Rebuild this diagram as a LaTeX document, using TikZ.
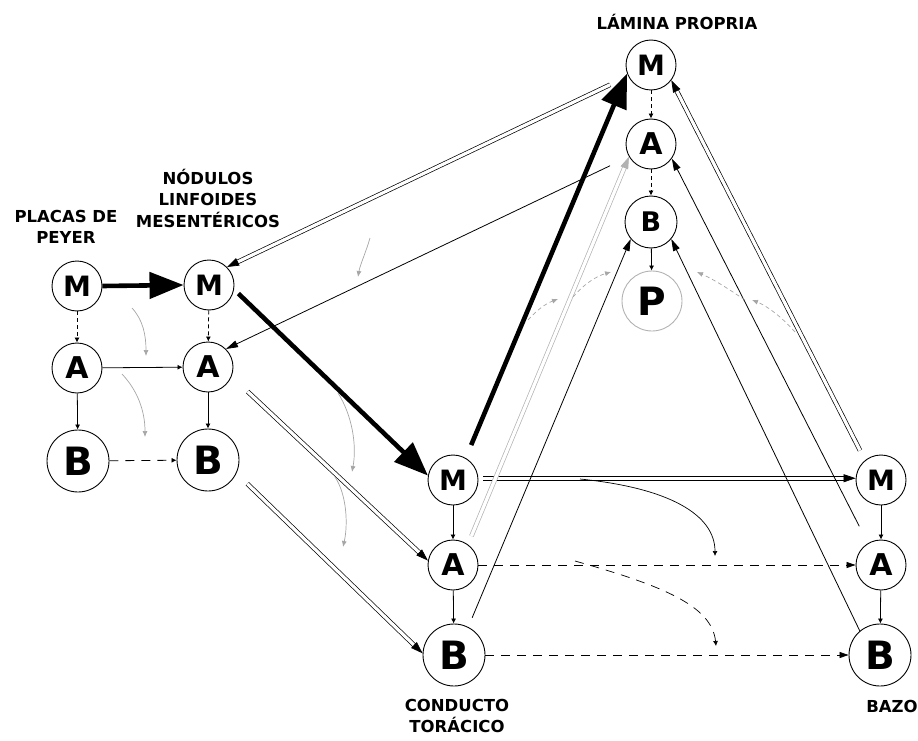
\documentclass[tikz,border=0pt]{standalone}
\usepackage{fontspec}
\setmainfont{DejaVu Sans}
\usetikzlibrary{arrows.meta,calc}
\tikzset{
 cell/.style={circle,draw,line width=0.9pt,inner sep=0pt,minimum size=50pt,font=\bfseries\fontsize{28}{28}\selectfont},
 cellA/.style={cell,font=\bfseries\fontsize{30}{30}\selectfont},
 cellB/.style={cell,minimum size=62pt,font=\bfseries\fontsize{39}{39}\selectfont},
 cellS/.style={cell,minimum size=52pt,font=\bfseries\fontsize{27}{27}\selectfont},
 cellP/.style={cell,draw=gray!60,minimum size=60pt,font=\bfseries\fontsize{39}{39}\selectfont},
 lbl/.style={font=\bfseries\fontsize{16.5}{21.5}\selectfont,align=center},
 big/.style={line width=4.6pt,-{Triangle[length=34pt,width=26pt]}},
 chain/.style={line width=0.8pt,-{Latex[length=5pt,width=5pt]}},
 thinarr/.style={line width=0.8pt,-{Triangle[length=12pt,width=7pt]}},
 dtip/.style={line width=0.8pt,-{Triangle[length=9pt,width=6pt]}},
 dsh/.style={dash pattern=on 9pt off 7pt},
 cdsh/.style={dash pattern=on 4pt off 3pt},
 dbl/.style={double,double distance=3.2pt,line width=0.7pt},
 faint/.style={gray!70,line width=0.7pt,-{Latex[length=6pt,width=5pt]}},
 curv/.style={line width=0.7pt,-{Latex[length=5pt,width=5pt]}},
}
\newcommand\dblarr[4][]{%
  \draw[dbl,#1,shorten >=9pt,shorten <=#4] (#2) -- (#3);
  \draw[#1,line width=0.7pt,-{Triangle[length=12pt,width=8pt]}] ($(#3)!12pt!(#2)$) -- (#3);
}
\begin{document}
\begin{tikzpicture}[x=1pt,y=-1pt]
\useasboundingbox (0,0) rectangle (918,741);
% nodes
\node[cell]  (pM) at (77,286) {M};
\node[cellA] (pA) at (77,368) {A};
\node[cellB] (pB) at (78,461) {B};
\node[cell]  (nM) at (209,285) {M};
\node[cellA] (nA) at (208,367) {A};
\node[cellB] (nB) at (208,460) {B};
\node[cell]  (lM) at (651,65) {M};
\node[cellA] (lA) at (651,144) {A};
\node[cellS] (lB) at (651,222) {B};
\node[cellP] (lP) at (652,301) {P};
\node[cell]  (cM) at (453,480) {M};
\node[cellA] (cA) at (453,565) {A};
\node[cellB] (cB) at (454,655) {B};
\node[cell]  (bM) at (881,480) {M};
\node[cellA] (bA) at (881,565) {A};
\node[cellB] (bB) at (880,655) {B};
% labels
\node[lbl] (tPey) at (66,227) {PLACAS DE\\PEYER};
\node[lbl] (tNod) at (208,198) {NÓDULOS\\LINFOIDES\\MESENTÉRICOS};
\node[lbl] (tLam) at (677,22) {LÁMINA PROPRIA};
\node[lbl] (tCon) at (457,716) {CONDUCTO\\TORÁCICO};
\node[lbl] (tBaz) at (892,706) {BAZO};
% thick arrows
\draw[big] (pM.east) -- (nM.west);
\draw[big,shorten <=6pt] (nM.-10) -- (cM.170);
\draw[big,shorten <=14pt] (cM.60) -- (lM.200);
% chains
\draw[chain,cdsh] (pM) -- (pA);
\draw[chain] (pA) -- (pB);
\draw[chain,cdsh] (nM) -- (nA);
\draw[chain] (nA) -- (nB);
\draw[chain,cdsh] (lM) -- (lA);
\draw[chain,cdsh] (lA) -- (lB);
\draw[chain] (lB) -- (lP);
\draw[chain] (cM) -- (cA);
\draw[chain] (cA) -- (cB);
\draw[chain] (bM) -- (bA);
\draw[chain] (bA) -- (bB);
% horizontals
\draw[chain] (pA) -- (nA);
\draw[chain,dsh] (pB) -- (nB);
\draw[dtip,dsh] (cA) -- (bA);
\draw[dtip,dsh] (cB) -- (bB);
% double routes
\dblarr{lM.206}{nM.45}{20pt}
\dblarr{nA.-22}{cA.170}{22pt}
\dblarr{nB.-25}{cB.177}{15pt}
\dblarr{cM.4}{bM.176}{5pt}
\dblarr[gray!60]{cA.54}{lA.210}{9pt}
\dblarr{bM.129}{lM.-37}{11pt}
% single routes
\draw[thinarr,shorten <=21pt] (lA.210) -- (nA.45);
\draw[thinarr,shorten <=10pt] (cB.63) -- (lB.220);
\draw[thinarr] (bB.130) -- (lB.-40);
\draw[thinarr,shorten <=19pt] (bA.121) -- (lA.-35);
% small curved arrows
\coordinate (k1s) at (132,308); \coordinate (k1e) at (146,356);
\coordinate (k2s) at (122,374); \coordinate (k2e) at (145,437);
\coordinate (k3s) at (370,238); \coordinate (k3e) at (358,277);
\coordinate (k4s) at (338,393); \coordinate (k4e) at (352,472);
\coordinate (k5s) at (335,477); \coordinate (k5e) at (343,547);
\coordinate (k6s) at (580,479); \coordinate (k6e) at (715,556);
\coordinate (k7s) at (575,561); \coordinate (k7e) at (716,646);
\coordinate (k8s) at (795,332); \coordinate (k8e) at (752,300);
\coordinate (k9s) at (745,300); \coordinate (k9e) at (697,272);
\coordinate (k10s) at (528,320); \coordinate (k10e) at (558,299);
\coordinate (k11s) at (573,297); \coordinate (k11e) at (611,272);
\draw[faint] (k1s) .. controls (143,320) and (146,335) .. (k1e);
\draw[faint] (k2s) .. controls (137,390) and (145,410) .. (k2e);
\draw[faint] (k3s) .. controls (366,252) and (360,265) .. (k3e);
\draw[faint] (k4s) .. controls (352,415) and (357,445) .. (k4e);
\draw[faint] (k5s) .. controls (347,495) and (348,525) .. (k5e);
\draw[curv] (k6s) .. controls (670,488) and (715,515) .. (k6e);
\draw[curv,dsh] (k7s) .. controls (660,585) and (712,605) .. (k7e);
\draw[faint,cdsh] (k8s) .. controls (780,315) and (765,305) .. (k8e);
\draw[faint,cdsh] (k9s) .. controls (730,290) and (715,280) .. (k9e);
\draw[faint,cdsh] (k10s) .. controls (537,310) and (545,304) .. (k10e);
\draw[faint,cdsh] (k11s) .. controls (585,283) and (597,276) .. (k11e);
\end{tikzpicture}
\end{document}
